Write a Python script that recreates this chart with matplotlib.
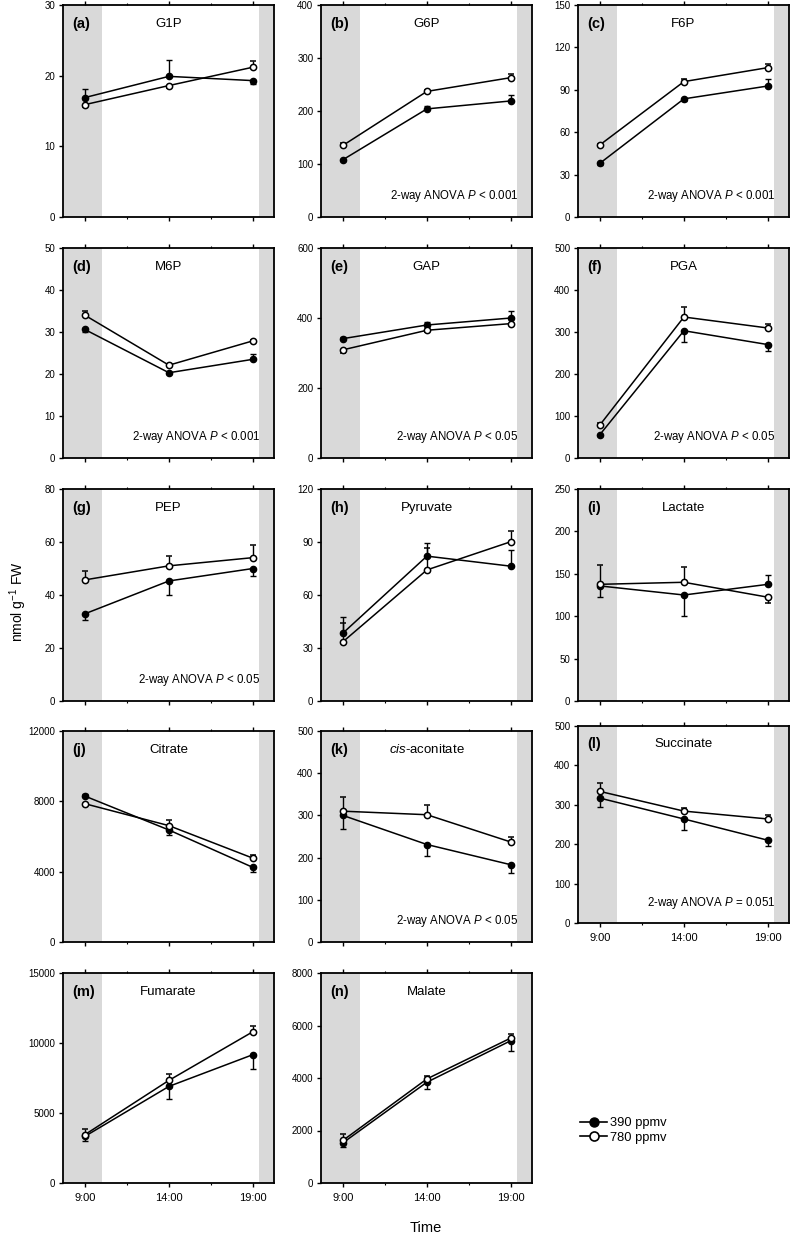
import numpy as np
import matplotlib
matplotlib.use("Agg")
import matplotlib.pyplot as plt
from matplotlib.lines import Line2D

plt.rcParams["font.family"] = ["Liberation Sans", "DejaVu Sans"]
plt.rcParams["mathtext.fontset"] = "custom"
plt.rcParams["mathtext.rm"] = "Liberation Sans"
plt.rcParams["mathtext.it"] = "Liberation Sans:italic"
plt.rcParams["mathtext.bf"] = "Liberation Sans:bold"

# Data (nmol g-1 FW), sampling times 9:00, 14:00, 19:00
times = [9, 14, 19]
time_labels = ["9:00", "14:00", "19:00"]
letters = list("abcdefghijklmn")
names = ["G1P", "G6P", "F6P", "M6P", "GAP", "PGA", "PEP", "Pyruvate",
         "Lactate", "Citrate", "$cis$-aconitate", "Succinate", "Fumarate", "Malate"]
anova = ["", "2-way ANOVA $P$ < 0.001", "2-way ANOVA $P$ < 0.001",
         "2-way ANOVA $P$ < 0.001", "2-way ANOVA $P$ < 0.05", "2-way ANOVA $P$ < 0.05",
         "2-way ANOVA $P$ < 0.05", "", "", "", "2-way ANOVA $P$ < 0.05",
         "2-way ANOVA $P$ = 0.051", "", ""]
ymax = [30, 400, 150, 50, 600, 500, 80, 120, 250, 12000, 500, 500, 15000, 8000]
ystep = [10, 100, 30, 10, 200, 100, 20, 30, 50, 4000, 100, 100, 5000, 2000]

# 390 ppmv (filled) means and SE (sign: + bar drawn up, - bar drawn down)
mean_390 = [[16.9, 19.9, 19.3], [108, 204, 219], [38, 83.6, 92.7], [30.6, 20.3, 23.5],
            [341, 380, 400], [55.6, 303, 270], [32.9, 45.3, 50.0], [38.4, 82.0, 76.3],
            [135.7, 125, 137.6], [8300, 6370, 4240], [300, 231, 183], [317, 264, 210],
            [3330, 6900, 9170], [1530, 3840, 5425]]
se_390 = [[1.2, 2.3, -0.5], [-3, 6, 12], [-1, -1.5, 5], [-0.5, -0.4, 1.2],
          [5, 10, 19], [-4, -26, -16], [-2.4, -5.2, -2.8], [9.4, 7.6, 9],
          [-13, -24.6, 10.6], [100, -300, -280], [-32, -28, -20], [-23, -27, -13.5],
          [-300, -880, -1020], [-150, -250, -380]]

# 780 ppmv (open) means and SE
mean_780 = [[15.9, 18.6, 21.2], [135, 237, 263], [51, 95.8, 105.7], [34.0, 22.1, 27.9],
            [309, 365, 384], [78.6, 335.7, 309.5], [45.7, 51.0, 54.1], [33.5, 74.2, 90.2],
            [137.6, 140, 122.4], [7865, 6617, 4766], [310, 301.6, 236.8], [334, 284, 264],
            [3450, 7330, 10810], [1620, 3966, 5526]]
se_780 = [[-0.3, -0.3, 0.9], [4, 3, 6], [1, 1.5, 2.5], [0.9, 0.3, 0.3],
          [-8, -5, -5], [4, 24, 9], [3.4, 3.7, 4.7], [10.5, 12.5, 6],
          [22.4, 18, -6.7], [-100, 300, 170], [33, 23, 12], [22, 9, 9],
          [400, 430, 430], [230, 100, 150]]

W, H = 791, 1239
fig = plt.figure(figsize=(W / 100, H / 100), dpi=100)

col_left = [63, 321, 578]
col_w = 211
row_top = [5, 248, 489, 731, 973]
row_bot = [217, 458, 701, 942, 1183]
bottom_panels = {11, 12, 13}


def bars(se):
    se = np.array(se, dtype=float)
    return [np.clip(-se, 0, None), np.clip(se, 0, None)]


for i in range(14):
    r, c = divmod(i, 3)
    top, bot = row_top[r], row_bot[r]
    if i == 11:
        # panel (l) is drawn a little shorter, with its own time axis
        top, bot = 726, 923
    ax = fig.add_axes([col_left[c] / W, 1 - bot / H, col_w / W, (bot - top) / H])
    ax.set_xlim(7.7, 20.25)
    ax.set_ylim(0, ymax[i])
    ax.axvspan(7.7, 10.0, color="#d9d9d9", lw=0, zorder=0)
    ax.axvspan(19.33, 20.25, color="#d9d9d9", lw=0, zorder=0)

    ax.errorbar(times, mean_390[i], yerr=bars(se_390[i]), fmt="-o", color="black",
                mfc="black", mec="black", ms=4.5, lw=1.1, elinewidth=1.0,
                capsize=2, capthick=1.0, zorder=3)
    ax.errorbar(times, mean_780[i], yerr=bars(se_780[i]), fmt="-o", color="black",
                mfc="white", mec="black", ms=4.5, mew=1.1, lw=1.1, elinewidth=1.0,
                capsize=2, capthick=1.0, zorder=4)

    ax.set_yticks(np.arange(0, ymax[i] + 1, ystep[i]))
    ax.set_xticks(times)
    ax.set_xticks([11.5, 16.5], minor=True)
    if i in bottom_panels:
        ax.set_xticklabels(time_labels, fontsize=8)
    else:
        ax.set_xticklabels([])
    ax.tick_params(axis="y", labelsize=7, length=3, width=1, pad=2.5)
    ax.tick_params(axis="x", which="major", length=3, width=1, pad=4, top=True)
    ax.tick_params(axis="x", which="minor", length=1.5, width=0.8, top=True)
    for s in ax.spines.values():
        s.set_linewidth(1.3)

    ax.text(0.043, 0.91, "(" + letters[i] + ")", transform=ax.transAxes,
            fontsize=10.5, fontweight="bold", va="center", ha="left")
    ax.text(0.5, 0.91, names[i], transform=ax.transAxes, fontsize=9.5,
            va="center", ha="center")
    if anova[i]:
        ax.text(0.935, 0.1, anova[i], transform=ax.transAxes, fontsize=8.3,
                va="center", ha="right")

fig.text(18 / W, 1 - 602 / H, "nmol g$^{-1}$ FW", rotation=90, fontsize=10,
         ha="center", va="center")
fig.text(426 / W, 1 - 1228 / H, "Time", fontsize=10.5, ha="center", va="center")

handles = [Line2D([], [], color="black", marker="o", mfc="black", ms=6.5, lw=1.2),
           Line2D([], [], color="black", marker="o", mfc="white", ms=6.5, mew=1.2, lw=1.2)]
fig.legend(handles, ["390 ppmv", "780 ppmv"], loc="center left",
           bbox_to_anchor=(580 / W, 1 - 1130.5 / H), frameon=False, fontsize=9.3,
           handlelength=2.1, handletextpad=0.25, labelspacing=0.16, borderpad=0,
           borderaxespad=0)

fig.savefig("out.png", dpi=100)
